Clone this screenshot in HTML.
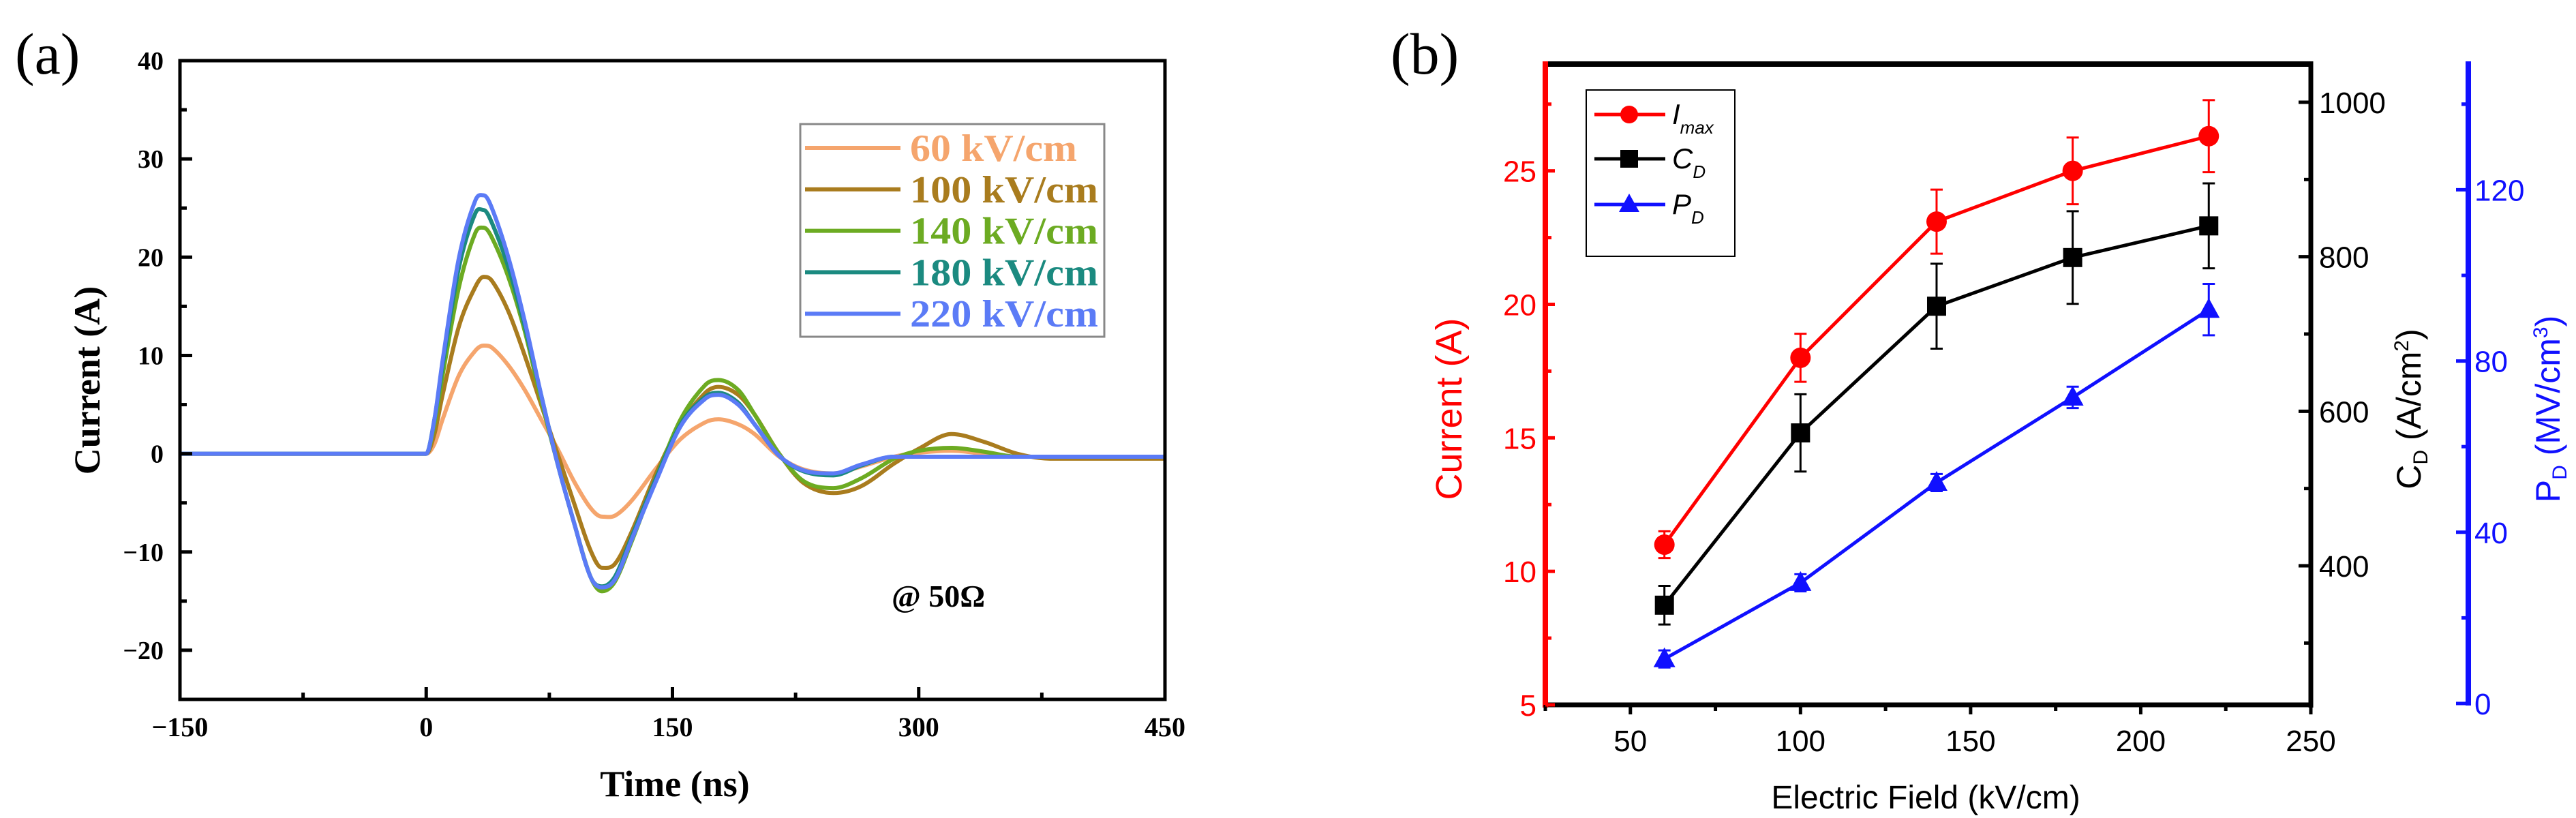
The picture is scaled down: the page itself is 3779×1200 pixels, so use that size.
<!DOCTYPE html>
<html><head><meta charset="utf-8"><style>
html,body{margin:0;padding:0;background:#fff;}
svg{display:block;}
.ser{font-family:"Liberation Serif",serif;font-weight:bold;}
.san{font-family:"Liberation Sans",sans-serif;}
</style></head><body>
<svg id="chart" width="3779" height="1200" viewBox="0 0 3779 1200" xmlns="http://www.w3.org/2000/svg">
<g id="pa"></g>
<g id="pb"></g>
</svg>
<script>
// ---------- Panel (a) data ----------
const times = [-150,-10,0,5,10,20,30,35,40,50,60,70,80,90,100,107,115,125,140,155,170,178,190,200,215,230,248,265,285,300,320,340,360,380,450];
const s60  = [0,0,0,1,3.5,8,10.5,11,10.8,9,6.5,3.5,0.5,-2.8,-5.5,-6.4,-6.3,-4.8,-1.5,1.5,3.2,3.5,3,2,-0.3,-1.6,-2,-1.3,-0.3,0.1,0.3,0,-0.3,-0.3,-0.3];
const s100 = [0,0,0,2,6,13,17,18,17.6,14.5,10,5,0,-5,-9.8,-11.6,-11.2,-8,-2,3,6.2,6.8,6,4,0,-3,-4,-3.3,-1,0.5,2,1.2,0,-0.5,-0.5];
const s140 = [0,0,0,3,8,17,22.5,23,22,18,12.5,5.5,-1,-7,-12.5,-14,-13,-9,-2.5,3.5,7,7.5,6.5,4,0,-2.8,-3.5,-2.5,-0.5,0.3,0.6,0.2,-0.3,-0.3,-0.3];
const s180 = [0,0,0,3.5,9,19,24.5,24.8,23.5,19,13,6,-1,-7,-12.5,-13.5,-12.5,-8.5,-2.5,3,5.8,6.2,5.2,3,-0.2,-1.8,-2.2,-1.2,-0.3,-0.3,-0.3,-0.3,-0.3,-0.3,-0.3];
const s220 = [0,0,0,3.5,9.5,20,25.8,26.3,25,20,13.5,6,-1,-7,-12.5,-13.6,-12.8,-8.8,-2.8,2.8,5.6,6,5,3,-0.2,-1.7,-2,-1.1,-0.3,-0.3,-0.3,-0.3,-0.3,-0.3,-0.3];
const seriesNamesA = ["60 kV/cm","100 kV/cm","140 kV/cm","180 kV/cm","220 kV/cm"];
const xTicksA = [-150,0,150,300,450];
const yTicksA = [-20,-10,0,10,20,30,40];
// ---------- Panel (b) data ----------
const fields = [60,100,140,180,220];
const imax = [11,18,23.1,25,26.3];
const imaxErr = [0.5,0.9,1.2,1.25,1.35];
const cd = [349,572,736,799,840];
const cdErr = [25,50,55,60,55];
const pd = [10.4,28.2,51.6,71.5,92];
const pdErr = [2,2,2,2.5,6];
const xTicksB = [50,100,150,200,250];
const yTicksI = [5,10,15,20,25];
const yTicksC = [400,600,800,1000];
const yTicksP = [0,40,80,120];

const NS="http://www.w3.org/2000/svg";
function mk(parent,tag,attrs,text){const e=document.createElementNS(NS,tag);for(const k in attrs)e.setAttribute(k,attrs[k]);if(text!==undefined)e.textContent=text;parent.appendChild(e);return e;}

// ===== Panel A =====
const pa=document.getElementById('pa');
const AX0=264,AX1=1709,AY0=89,AY1=1026;
const xa=v=>AX0+(v+150)/600*(AX1-AX0);
const ya=v=>AY0+(40-v)/65*(AY1-AY0);
let t=mk(pa,'text',{x:22,y:108,'font-size':86,'font-family':'Liberation Serif, serif'},'(a)');


const colsA=["#f5a56d","#a97c1e","#6cab22","#1b8a80","#5b7bf6"];
const dataA=[s60,s100,s140,s180,s220];
const clip=mk(pa,'clipPath',{id:'clipA'});mk(clip,'rect',{x:AX0,y:AY0,width:AX1-AX0,height:AY1-AY0});
function smooth(xs,ys){
 const n=xs.length,m=[];
 for(let i=0;i<n;i++){
  if(i===0||i===n-1){m.push(0);continue;}
  if((ys[i]-ys[i-1])*(ys[i+1]-ys[i])<=0){m.push(0);continue;}
  m.push((ys[i+1]-ys[i-1])/(xs[i+1]-xs[i-1]));}
 let d=`M${xa(xs[0])},${ya(ys[0])}`;
 for(let i=0;i<n-1;i++){const dx=xs[i+1]-xs[i];
  d+=` C${xa(xs[i]+dx/3)},${ya(ys[i]+m[i]*dx/3)} ${xa(xs[i+1]-dx/3)},${ya(ys[i+1]-m[i+1]*dx/3)} ${xa(xs[i+1])},${ya(ys[i+1])}`;}
 return d;}
dataA.forEach((s,i)=>{const p=mk(pa,'path',{d:smooth(times,s),fill:'none',stroke:colsA[i],'stroke-width':6,'clip-path':'url(#clipA)'});

});
const fa=mk(pa,'rect',{x:AX0,y:AY0,width:AX1-AX0,height:AY1-AY0,fill:'none',stroke:'#000','stroke-width':5});


xTicksA.forEach((v,i)=>{mk(pa,'line',{x1:xa(v),x2:xa(v),y1:AY1,y2:AY1-18,stroke:'#000','stroke-width':5});
 if(i<xTicksA.length-1)mk(pa,'line',{x1:xa(v+75),x2:xa(v+75),y1:AY1,y2:AY1-10,stroke:'#000','stroke-width':5});
 const l=mk(pa,'text',{x:xa(v),y:1080,'text-anchor':'middle','font-size':40,class:'ser'},String(v).replace('-','\u2212'));
 
 });
yTicksA.forEach(v=>{mk(pa,'line',{x1:AX0,x2:AX0+18,y1:ya(v),y2:ya(v),stroke:'#000','stroke-width':5});
 if(v-5>-25)mk(pa,'line',{x1:AX0,x2:AX0+10,y1:ya(v-5),y2:ya(v-5),stroke:'#000','stroke-width':5});
 const l=mk(pa,'text',{x:240,y:ya(v)+13,'text-anchor':'end','font-size':38,class:'ser'},String(v).replace('-','\u2212'));
 
 });
t=mk(pa,'text',{x:990,y:1168,'text-anchor':'middle','font-size':54,class:'ser'},'Time (ns)');


t=mk(pa,'text',{x:0,y:0,'text-anchor':'middle','font-size':54,class:'ser',transform:'translate(146,558) rotate(-90)'},'Current (A)');


t=mk(pa,'text',{x:1308,y:890,'font-size':46,class:'ser'},'@ 50\u03A9');


const lga=mk(pa,'g',{});


mk(lga,'rect',{x:1174,y:182,width:446,height:312,fill:'#fff',stroke:'#888','stroke-width':3});
seriesNamesA.forEach((n,i)=>{const y=217+i*60.8;
 mk(lga,'line',{x1:1181,x2:1321,y1:y,y2:y,stroke:colsA[i],'stroke-width':6});
 const e=mk(lga,'text',{x:1335,y:y+19,'font-size':56,class:'ser',fill:colsA[i],textLength:276,lengthAdjust:'spacingAndGlyphs'},n);
 if(i===0){e.setAttribute('textLength',245);}
 
 });

// ===== Panel B =====
const pb=document.getElementById('pb');
const BX0=2267,BX1=3390,BY0=94,BY1=1034,BLUE=3621;
const xb=v=>BX0+(v-25)/225*(BX1-BX0);
const yI=v=>BY1-(v-5)/24*(BY1-BY0);
const yC=v=>830-(v-400)*1.1333;
const yP=v=>1032-v*6.28;
t=mk(pb,'text',{x:2040,y:108,'font-size':86,'font-family':'Liberation Serif, serif'},'(b)');


mk(pb,'line',{x1:BX0,x2:BX1,y1:BY0,y2:BY0,stroke:'#000','stroke-width':8});
mk(pb,'line',{x1:BX0,x2:BX1,y1:BY1,y2:BY1,stroke:'#000','stroke-width':7});
mk(pb,'line',{x1:BX1,x2:BX1,y1:BY0-4,y2:BY1+4,stroke:'#000','stroke-width':7});
let ax=mk(pb,'line',{x1:BX0,x2:BX0,y1:BY0-4,y2:BY1+4,stroke:'#f00','stroke-width':8});


ax=mk(pb,'line',{x1:BLUE,x2:BLUE,y1:90,y2:1035,stroke:'#1010ff','stroke-width':8});


xTicksB.forEach((v,i)=>{mk(pb,'line',{x1:xb(v),x2:xb(v),y1:BY1,y2:BY1+14,stroke:'#000','stroke-width':5});
 mk(pb,'line',{x1:xb(v-25),x2:xb(v-25),y1:BY1,y2:BY1+9,stroke:'#000','stroke-width':5});
 const l=mk(pb,'text',{x:xb(v),y:1102,'text-anchor':'middle','font-size':44,class:'san'},String(v));
 
 });
yTicksI.forEach(v=>{mk(pb,'line',{x1:BX0,x2:BX0+14,y1:yI(v),y2:yI(v),stroke:'#f00','stroke-width':5});
 mk(pb,'line',{x1:BX0,x2:BX0+9,y1:yI(v+2.5),y2:yI(v+2.5),stroke:'#f00','stroke-width':5});
 const l=mk(pb,'text',{x:2254,y:yI(v)+16,'text-anchor':'end','font-size':44,class:'san',fill:'#f00'},String(v));
 
 });
yTicksC.forEach(v=>{mk(pb,'line',{x1:BX1,x2:BX1-18,y1:yC(v),y2:yC(v),stroke:'#000','stroke-width':5});
 mk(pb,'line',{x1:BX1,x2:BX1-10,y1:yC(v-100),y2:yC(v-100),stroke:'#000','stroke-width':5});
 const l=mk(pb,'text',{x:3402,y:yC(v)+16,'font-size':44,class:'san'},String(v));
 
 });
yTicksP.forEach(v=>{mk(pb,'line',{x1:BLUE,x2:BLUE-18,y1:yP(v),y2:yP(v),stroke:'#1010ff','stroke-width':5});
 mk(pb,'line',{x1:BLUE,x2:BLUE-10,y1:yP(v+20),y2:yP(v+20),stroke:'#1010ff','stroke-width':5});
 const l=mk(pb,'text',{x:3630,y:yP(v)+16,'font-size':44,class:'san',fill:'#1010ff'},String(v));
 
 });
mk(pb,'line',{x1:BLUE,x2:BLUE-10,y1:yP(140),y2:yP(140),stroke:'#1010ff','stroke-width':5});
t=mk(pb,'text',{x:2825,y:1186,'text-anchor':'middle','font-size':48,class:'san'},'Electric Field (kV/cm)');


t=mk(pb,'text',{x:0,y:0,'text-anchor':'middle','font-size':54,class:'san',fill:'#f00',transform:'translate(2144,600) rotate(-90)'},'Current (A)');


t=mk(pb,'text',{x:0,y:0,'text-anchor':'middle','font-size':50,class:'san',transform:'translate(3551,600) rotate(-90)'});


t.innerHTML='C<tspan font-size="30" dy="10">D</tspan><tspan dy="-10"> (A/cm</tspan><tspan font-size="30" dy="-18">2</tspan><tspan dy="18">)</tspan>';
t=mk(pb,'text',{x:0,y:0,'text-anchor':'middle','font-size':50,class:'san',fill:'#1010ff',transform:'translate(3755,600) rotate(-90)'});


t.innerHTML='P<tspan font-size="30" dy="10">D</tspan><tspan dy="-10"> (MV/cm</tspan><tspan font-size="30" dy="-18">3</tspan><tspan dy="18">)</tspan>';
function series(vals,errs,yf,color,marker,name){
 const g=mk(pb,'g',{});
 
 
 mk(g,'polyline',{points:fields.map((f,i)=>xb(f)+','+yf(vals[i])).join(' '),fill:'none',stroke:color,'stroke-width':5});
 fields.forEach((f,i)=>{const x=xb(f),y1=yf(vals[i]+errs[i]),y2=yf(vals[i]-errs[i]);
  mk(g,'line',{x1:x,x2:x,y1:y1,y2:y2,stroke:color,'stroke-width':3});
  mk(g,'line',{x1:x-9,x2:x+9,y1:y1,y2:y1,stroke:color,'stroke-width':3});
  mk(g,'line',{x1:x-9,x2:x+9,y1:y2,y2:y2,stroke:color,'stroke-width':3});
  const y=yf(vals[i]);let m;
  if(marker==='c')m=mk(g,'circle',{cx:x,cy:y,r:15,fill:color});
  else if(marker==='s')m=mk(g,'rect',{x:x-14,y:y-14,width:28,height:28,fill:color});
  else m=mk(g,'polygon',{points:`${x},${y-17} ${x-16},${y+12} ${x+16},${y+12}`,fill:color});
  
  });
}
series(imax,imaxErr,yI,'#f00','c','imax');
series(cd,cdErr,yC,'#000','s','cd');
series(pd,pdErr,yP,'#1010ff','t','pd');
const lgb=mk(pb,'g',{});


mk(lgb,'rect',{x:2327,y:132,width:218,height:244,fill:'#fff',stroke:'#000','stroke-width':2});
[['#f00','c','I','max',168],['#000','s','C','D',233],['#1010ff','t','P','D',300]].forEach(e=>{
 const [c,m,a,b,y]=e;mk(lgb,'line',{x1:2339,x2:2443,y1:y,y2:y,stroke:c,'stroke-width':5});
 if(m==='c')mk(lgb,'circle',{cx:2390,cy:y,r:13,fill:c});
 else if(m==='s')mk(lgb,'rect',{x:2377,y:y-13,width:26,height:26,fill:c});
 else mk(lgb,'polygon',{points:`2390,${y-16} 2375,${y+11} 2405,${y+11}`,fill:c});
 const tx=mk(lgb,'text',{x:2453,y:y+14,'font-size':42,class:'san','font-style':'italic'});
 
 
 tx.innerHTML=a+'<tspan font-size="26" dy="14">'+b+'</tspan>';});
</script>
</body></html>
